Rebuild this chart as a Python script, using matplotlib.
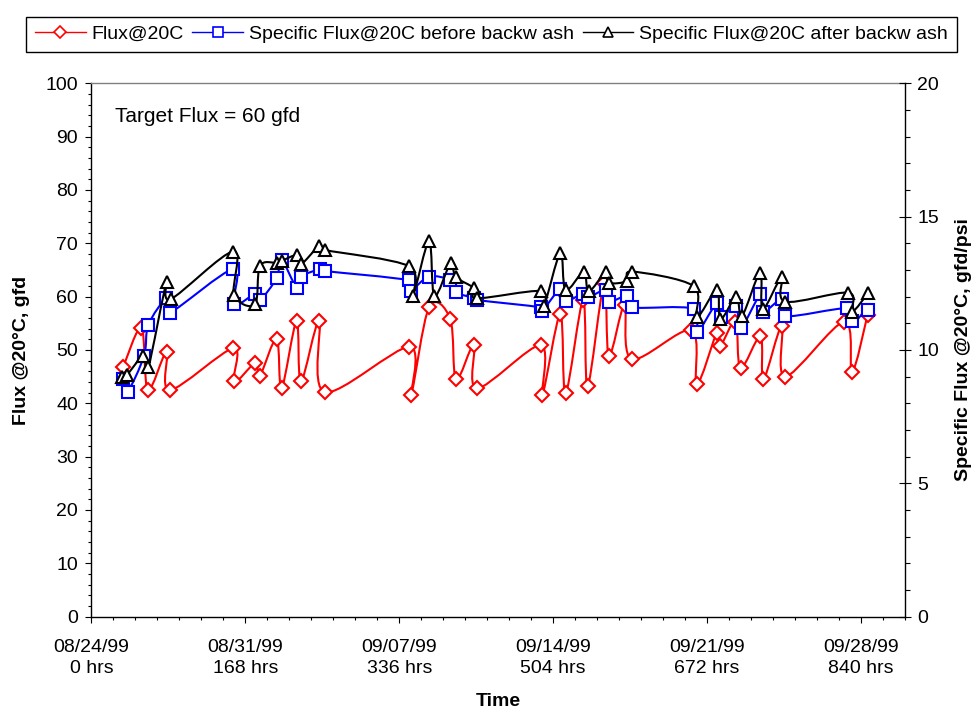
import numpy as np
import matplotlib
matplotlib.use("Agg")
import matplotlib.pyplot as plt
from matplotlib.path import Path
from matplotlib.patches import PathPatch
from matplotlib.lines import Line2D
from matplotlib.ticker import MultipleLocator, FixedLocator

plt.rcParams['font.family'] = ['Liberation Sans', 'DejaVu Sans']

# ---------------- data (hours since 08/24/99) ----------------
flux_hrs = [34.9, 54.7, 61.7, 82.2, 85.8, 154.8, 155.9, 178.5, 184.0, 202.2,
            207.6, 224.0, 228.7, 248.6, 254.8, 347.2, 348.9, 368.6, 391.7, 398.0,
            417.5, 421.1, 490.4, 492.2, 511.8, 517.6, 536.7, 541.6, 559.6, 564.8,
            581.9, 589.8, 654.7, 660.8, 682.6, 686.6, 703.0, 708.5, 730.3, 733.5,
            753.5, 757.5, 821.8, 830.2, 847.2]
flux_vals = [46.9, 54.1, 42.5, 49.7, 42.5, 50.3, 44.1, 47.5, 45.2, 52.1,
             42.8, 55.4, 44.1, 55.4, 42.1, 50.6, 41.6, 58.0, 55.8, 44.5,
             51.0, 42.8, 50.9, 41.6, 56.7, 41.9, 59.3, 43.2, 62.5, 48.9,
             58.4, 48.3, 53.7, 43.6, 53.2, 50.8, 55.3, 46.6, 52.6, 44.5,
             54.5, 45.0, 55.3, 45.9, 56.6]

sf_before_hrs = [34.9, 39.5, 57.5, 62.2, 82.0, 85.8, 154.8, 155.9, 178.5, 184.0,
                 202.2, 207.6, 224.0, 228.7, 249.4, 254.8, 346.7, 348.6, 368.6, 391.7,
                 398.0, 418.0, 421.3, 490.4, 492.2, 511.8, 517.6, 536.2, 541.9, 561.2,
                 564.8, 584.5, 590.3, 657.2, 660.8, 682.6, 687.4, 703.8, 708.5, 730.3,
                 733.5, 753.5, 757.5, 824.3, 830.2, 848.0]
sf_before_vals = [8.92, 8.44, 9.78, 10.94, 11.94, 11.40, 13.03, 11.72, 12.10, 11.87,
                  12.69, 13.37, 12.34, 12.75, 13.03, 12.96, 12.61, 12.23, 12.75, 12.61,
                  12.17, 11.94, 11.87, 11.60, 11.47, 12.28, 11.84, 12.10, 11.97, 12.25,
                  11.81, 12.02, 11.60, 11.54, 10.66, 11.75, 11.25, 11.65, 10.81, 12.09,
                  11.44, 11.90, 11.27, 11.56, 11.09, 11.50]

sf_after_hrs = [33.1, 38.6, 56.7, 62.2, 82.2, 86.4, 154.8, 155.9, 178.5, 184.0,
                202.2, 207.6, 224.6, 228.7, 248.6, 254.8, 346.7, 350.8, 368.6, 374.4,
                392.2, 397.7, 418.1, 421.1, 490.4, 494.0, 511.8, 517.6, 537.2, 543.0,
                561.2, 564.8, 584.5, 590.3, 657.2, 660.8, 682.6, 686.6, 703.8, 710.3,
                729.9, 732.8, 753.5, 757.5, 826.2, 830.2, 848.0]
sf_after_vals = [8.98, 9.06, 9.78, 9.35, 12.56, 11.90, 13.69, 12.06, 11.71, 13.15,
                 13.27, 13.34, 13.56, 13.21, 13.90, 13.75, 13.14, 12.03, 14.08, 12.03,
                 13.27, 12.74, 12.31, 11.94, 12.21, 11.65, 13.63, 12.25, 12.92, 12.20,
                 12.92, 12.52, 12.58, 12.94, 12.40, 11.23, 12.25, 11.15, 12.00, 11.29,
                 12.90, 11.53, 12.73, 11.81, 12.15, 11.44, 12.15]

tick_hrs = [0, 168, 336, 504, 672, 840]
tick_labels = ["08/24/99\n0 hrs", "08/31/99\n168 hrs", "09/07/99\n336 hrs",
               "09/14/99\n504 hrs", "09/21/99\n672 hrs", "09/28/99\n840 hrs"]
series_names = ["Flux@20C", "Specific Flux@20C before backw ash",
                "Specific Flux@20C after backw ash"]


def smooth_path(x, y):
    pts = np.column_stack([x, y]).astype(float)
    n = len(pts)
    verts = [pts[0]]
    codes = [Path.MOVETO]
    for i in range(n - 1):
        p0 = pts[i - 1] if i > 0 else pts[i]
        p1 = pts[i]
        p2 = pts[i + 1]
        p3 = pts[i + 2] if i + 2 < n else pts[i + 1]
        c1 = p1 + (p2 - p0) / 6.0
        c2 = p2 - (p3 - p1) / 6.0
        verts += [c1, c2, p2]
        codes += [Path.CURVE4] * 3
    return Path(verts, codes)


FS = 14
fig = plt.figure(figsize=(9.77, 7.13), dpi=100)
ax = fig.add_axes([0.0935, 0.1351, 0.8328, 0.7481])
ax2 = ax.twinx()

# red flux series on the left axis
ax.add_patch(PathPatch(smooth_path(flux_hrs, flux_vals), facecolor='none',
                       edgecolor='#FF0000', lw=1.5, zorder=3))
ax.plot(flux_hrs, flux_vals, ls='none', marker='D', ms=6.8, mfc='white',
        mec='#FF0000', mew=1.5, zorder=4)

# specific flux on the right axis
ax2.add_patch(PathPatch(smooth_path(sf_before_hrs, sf_before_vals), facecolor='none',
                        edgecolor='#0000FF', lw=1.5, zorder=3))
ax2.plot(sf_before_hrs, sf_before_vals, ls='none', marker='s', ms=8, mfc='white',
         mec='#0000FF', mew=1.5, zorder=4)
ax2.add_patch(PathPatch(smooth_path(sf_after_hrs, sf_after_vals), facecolor='none',
                        edgecolor='black', lw=1.5, zorder=5))
ax2.plot(sf_after_hrs, sf_after_vals, ls='none', marker='^', ms=8.5, mfc='white',
         mec='black', mew=1.5, zorder=6)

ax.set_xlim(0, 888)
ax.set_ylim(0, 100)
ax2.set_ylim(0, 20)

ax.xaxis.set_major_locator(FixedLocator(tick_hrs))
ax.set_xticklabels(tick_labels, fontsize=FS, linespacing=1.3)
ax.xaxis.set_minor_locator(MultipleLocator(24))
ax.yaxis.set_major_locator(MultipleLocator(10))
ax.yaxis.set_minor_locator(MultipleLocator(2))
ax2.yaxis.set_major_locator(MultipleLocator(5))
ax2.yaxis.set_minor_locator(MultipleLocator(1))

ax.tick_params(axis='x', which='major', direction='out', length=4, width=0.8,
               labelsize=FS, pad=12)
ax.tick_params(axis='x', which='minor', direction='out', length=2.5, width=0.8)
ax.tick_params(axis='y', which='major', direction='out', length=4.5, width=0.8,
               labelsize=FS, pad=5)
ax.tick_params(axis='y', which='minor', direction='out', length=2.5, width=0.8)
ax2.tick_params(axis='y', which='major', direction='inout', length=8, width=0.8,
                labelsize=FS, pad=5)
ax2.tick_params(axis='y', which='minor', direction='out', length=3.5, width=0.8)

for s in ['left', 'bottom']:
    ax.spines[s].set_color('black')
    ax.spines[s].set_linewidth(1.0)
ax.spines['top'].set_color('#808080')
ax.spines['top'].set_linewidth(1.0)
ax.spines['right'].set_visible(False)
for s in ['left', 'bottom', 'top']:
    ax2.spines[s].set_visible(False)
ax2.spines['right'].set_color('black')
ax2.spines['right'].set_linewidth(1.0)

ax.set_ylabel("Flux @20°C, gfd", fontsize=FS, fontweight='bold', labelpad=11)
ax2.set_ylabel("Specific Flux @20°C, gfd/psi", fontsize=FS, fontweight='bold',
               labelpad=11)
ax.set_xlabel("Time", fontsize=FS, fontweight='bold', labelpad=11.5)

ax.text(0.029, 0.937, "Target Flux = 60 gfd", transform=ax.transAxes,
        fontsize=15, va='center', ha='left')

handles = [
    Line2D([], [], color='#FF0000', lw=1.0, marker='D', ms=6, mfc='white',
           mec='#FF0000', mew=1.2),
    Line2D([], [], color='#0000FF', lw=1.0, marker='s', ms=7.5, mfc='white',
           mec='#0000FF', mew=1.2),
    Line2D([], [], color='black', lw=1.0, marker='^', ms=7.5, mfc='white',
           mec='black', mew=1.2),
]
leg = fig.legend(handles, series_names, loc='upper center',
                 bbox_to_anchor=(0.503, 0.99), ncol=3, fontsize=FS,
                 frameon=True, fancybox=False, framealpha=1, edgecolor='black',
                 handlelength=2.6, handletextpad=0.3, columnspacing=0.45,
                 borderpad=0.45, numpoints=1)
leg.get_frame().set_linewidth(1.0)

fig.savefig("out.png", dpi=100)
